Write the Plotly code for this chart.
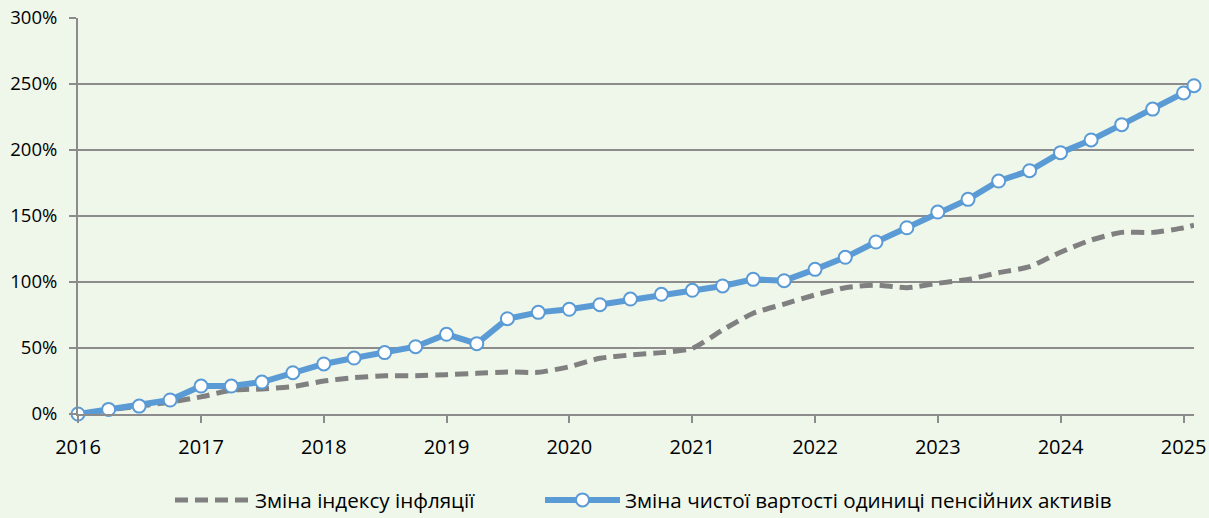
import pandas as pd
import plotly.graph_objects as go

dates = list(pd.date_range("2016-01-01", "2025-01-01", freq="QS")) + [pd.Timestamp("2025-02-01")]

inflation = [0, 3, 6, 9, 13, 18, 19, 20.7, 25, 27.5, 29,
             29, 29.8, 30.8, 31.8, 31.6, 35.8, 42.2, 44.7, 46.5, 49.7, 63.6, 76.3, 83.3,
             90.2, 95.7, 97.7, 95.7, 99, 102, 107, 111.6, 122.5, 131.8, 137.6, 137.6, 141, 143]

nav_unit = [0, 3.5, 6, 10.6, 21.2, 21.2, 24.2, 31.3, 37.9, 42.4, 46.5,
            51, 60.4, 53.3, 72.2, 77, 79.3, 82.8, 87.1, 90.7, 93.7, 97, 102, 101,
            109.6, 118.7, 130.3, 141.1, 153, 162.6, 176.5, 184.3, 198, 207.6, 219.2, 231, 243.2, 248.7]

y_tick_vals = [0, 50, 100, 150, 200, 250, 300]
y_tick_text = ["0%", "50%", "100%", "150%", "200%", "250%", "300%"]

name_infl = "Зміна індексу інфляції"
name_nav = "Зміна чистої вартості одиниці пенсійних активів"

BG = "#eff6ea"
GRID = "#8c8c8c"
FONT = "Open Sans"
W, H = 1209, 518

fig = go.Figure()
fig.add_trace(go.Scatter(
    x=dates, y=inflation, name=name_infl, mode="lines",
    line=dict(color="#808080", width=5, dash="13px,7px", shape="spline", smoothing=0.6),
    legend="legend",
))
fig.add_trace(go.Scatter(
    x=dates, y=nav_unit, name=name_nav, mode="lines+markers",
    line=dict(color="#5b9bd5", width=6),
    marker=dict(symbol="circle", size=13, color="white", line=dict(color="#5b9bd5", width=2)),
    legend="legend2", cliponaxis=False,
))

leg_common = dict(orientation="h", xref="container", yref="container",
                  xanchor="left", yanchor="middle", y=1 - 500 / H,
                  font=dict(family=FONT, size=20.6, color="#000000"),
                  bgcolor="rgba(0,0,0,0)", itemwidth=75)

fig.update_layout(
    width=W, height=H,
    margin=dict(l=78, r=15, t=18, b=104),
    paper_bgcolor=BG, plot_bgcolor=BG,
    font=dict(family=FONT, size=19, color="#000000"),
    showlegend=True,
    legend=dict(x=170 / W, **leg_common),
    legend2=dict(x=540 / W, **leg_common),
    xaxis=dict(
        type="date", range=["2016-01-01", "2025-02-01"],
        tickformat="%Y", dtick="M12", tick0="2016-01-01",
        showgrid=False, showline=True, linecolor=GRID, linewidth=2,
        ticks="outside", ticklen=7, tickcolor=GRID, tickwidth=2,
        zeroline=False, tickfont=dict(size=20), automargin=False,
        ticklabelstandoff=7, ticklabeloverflow="allow",
    ),
    yaxis=dict(
        range=[0, 300], tickmode="array",
        tickvals=y_tick_vals, ticktext=y_tick_text,
        showgrid=True, gridcolor=GRID, gridwidth=2,
        showline=True, linecolor=GRID, linewidth=2,
        ticks="outside", ticklen=7, tickcolor=GRID, tickwidth=2,
        zeroline=False, tickfont=dict(size=18.5), automargin=False,
        ticklabelstandoff=8, ticklabeloverflow="allow",
    ),
)

fig.write_html(
    "out.html",
    config={"displayModeBar": False},
    post_script="document.body.style.margin='0';document.body.style.background='" + BG + "';",
)
